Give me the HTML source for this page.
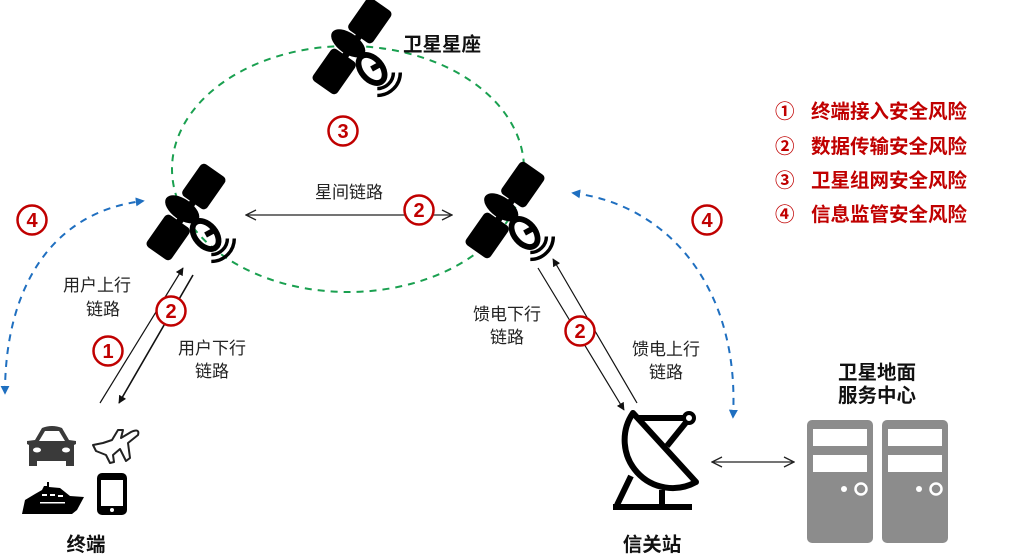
<!DOCTYPE html>
<html><head><meta charset="utf-8"><style>
html,body{margin:0;padding:0;background:#fff;}
svg{display:block;}
text{font-family:"Liberation Sans","Noto Sans CJK SC",sans-serif;}
.t{font-size:17px;fill:#222;}
.b{font-size:19.5px;font-weight:bold;fill:#111;}
.r{font-size:19.5px;font-weight:bold;fill:#c00000;}
.cn{font-size:20px;font-weight:bold;fill:#c00000;}
</style></head><body>
<svg width="1028" height="559" viewBox="0 0 1028 559" xmlns="http://www.w3.org/2000/svg">
<defs>
<marker id="ah" viewBox="0 0 10 10" refX="9" refY="5" markerWidth="8" markerHeight="8" orient="auto-start-reverse" markerUnits="userSpaceOnUse"><path d="M0,0 L10,5 L0,10 z" fill="#111"/></marker>
<marker id="oh" viewBox="0 0 12 12" refX="11" refY="6" markerWidth="12" markerHeight="12" orient="auto-start-reverse" markerUnits="userSpaceOnUse"><path d="M1,1 L11,6 L1,11" fill="none" stroke="#222" stroke-width="1.3"/></marker>
<marker id="bh" viewBox="0 0 10 10" refX="8" refY="5" markerWidth="9" markerHeight="9" orient="auto-start-reverse" markerUnits="userSpaceOnUse"><path d="M0,0 L10,5 L0,10 z" fill="#1f6fc0"/></marker>
<g id="sat">
 <g transform="scale(1.15)">
  <g transform="rotate(-55)">
    <rect x="10" y="-13" width="34" height="26" rx="4" fill="#000"/>
    <rect x="-44" y="-13" width="34" height="26" rx="4" fill="#000"/>
    <rect x="-12" y="-3" width="24" height="6" fill="#000"/>
    <ellipse cx="0" cy="-4" rx="9" ry="17" fill="#000"/>
  </g>
  <g transform="translate(17,20) rotate(-40)">
    <ellipse cx="0" cy="0" rx="9" ry="14" fill="none" stroke="#000" stroke-width="5"/>
    <line x1="0" y1="0" x2="10" y2="2" stroke="#000" stroke-width="5"/>
  </g>
  <path d="M22,37 A14,14 0 0 0 36,23" fill="none" stroke="#000" stroke-width="3"/>
  <path d="M22,43 A20,20 0 0 0 42,23" fill="none" stroke="#000" stroke-width="3"/>
 </g>
</g>
</defs>

<ellipse cx="348" cy="169" rx="176" ry="123" fill="none" stroke="#1aa050" stroke-width="2" stroke-dasharray="7,6"/>

<use href="#sat" x="352" y="46"/>
<use href="#sat" x="186" y="212"/>
<use href="#sat" x="505" y="210"/>

<text class="b" x="403" y="51">卫星星座</text>

<line x1="246" y1="215" x2="452" y2="215" stroke="#222" stroke-width="1.3" marker-start="url(#oh)" marker-end="url(#oh)"/>
<text class="t" x="349" y="198" text-anchor="middle">星间链路</text>

<line x1="100" y1="403" x2="183" y2="268" stroke="#111" stroke-width="1.2" marker-end="url(#ah)"/>
<line x1="193" y1="275" x2="119" y2="403" stroke="#111" stroke-width="1.6" marker-end="url(#ah)"/>
<text class="t" x="97" y="291" text-anchor="middle">用户上行</text>
<text class="t" x="103" y="315" text-anchor="middle">链路</text>
<text class="t" x="212" y="354" text-anchor="middle">用户下行</text>
<text class="t" x="212" y="377" text-anchor="middle">链路</text>

<line x1="538" y1="268" x2="624" y2="410" stroke="#111" stroke-width="1.2" marker-end="url(#ah)"/>
<line x1="637" y1="403" x2="553" y2="259" stroke="#111" stroke-width="1.2" marker-end="url(#ah)"/>
<text class="t" x="507" y="320" text-anchor="middle">馈电下行</text>
<text class="t" x="507" y="343" text-anchor="middle">链路</text>
<text class="t" x="666" y="355" text-anchor="middle">馈电上行</text>
<text class="t" x="666" y="378" text-anchor="middle">链路</text>

<path d="M5,393 C5,290 50,212 143,201" fill="none" stroke="#1f6fc0" stroke-width="2" stroke-dasharray="7,6" marker-start="url(#bh)" marker-end="url(#bh)"/>
<path d="M573,193 C670,205 740,290 733,417" fill="none" stroke="#1f6fc0" stroke-width="2" stroke-dasharray="7,6" marker-start="url(#bh)" marker-end="url(#bh)"/>

<g fill="#fff" stroke="#c00000" stroke-width="2.5">
<circle cx="32" cy="220" r="14.5"/>
<circle cx="108" cy="351" r="14.5"/>
<circle cx="171" cy="311" r="14.5"/>
<circle cx="343" cy="131" r="14.5"/>
<circle cx="419" cy="210" r="14.5"/>
<circle cx="580" cy="331" r="14.5"/>
<circle cx="707" cy="220" r="14.5"/>
</g>
<g class="cn" text-anchor="middle">
<text x="32" y="227">4</text>
<text x="108" y="358">1</text>
<text x="171" y="318">2</text>
<text x="343" y="138">3</text>
<text x="419" y="217">2</text>
<text x="580" y="338">2</text>
<text x="707" y="227">4</text>
</g>

<g class="r">
<text x="775" y="118">①</text><text x="811" y="118">终端接入安全风险</text>
<text x="775" y="153">②</text><text x="811" y="153">数据传输安全风险</text>
<text x="775" y="187">③</text><text x="811" y="187">卫星组网安全风险</text>
<text x="775" y="221">④</text><text x="811" y="221">信息监管安全风险</text>
</g>

<g fill="#3a3a3a">
  <path d="M35,440 L42,428 Q52,424 62,428 L69,440 L76,441 L76,444 L74,445 L74,466 L66,466 L66,461 L37,461 L37,466 L29,466 L29,445 L27,444 L27,441 Z"/>
</g>
<path d="M39,441 L45,431 L59,431 L65,441 Z" fill="#fff"/>
<ellipse cx="37" cy="450" rx="4" ry="2.5" fill="#fff"/>
<ellipse cx="66" cy="450" rx="4" ry="2.5" fill="#fff"/>
<path d="M93,445 L103,443 L112,440 L118,430 L123,430 L121,438 L131,432 Q140,428 138,435 L128,443 L130,458 L126,461 L120,449 L113,455 L114,462 L110,463 L106,455 L96,451 Z" fill="none" stroke="#222" stroke-width="2" stroke-linejoin="round"/>
<path d="M22,514 L25,500 L35,494 L42,490 L44,486 L47,486 L47,482 L49,482 L49,487 L60,488 L70,496 L84,497 L77,510 L72,514 Z" fill="#000"/>
<g fill="#fff"><rect x="42" y="494" width="5" height="2"/><rect x="50" y="494" width="5" height="2"/><rect x="58" y="495" width="5" height="2"/><rect x="40" y="502" width="25" height="1.5"/></g>
<rect x="97" y="473" width="30" height="42" rx="5" fill="#000"/>
<rect x="101" y="480" width="22" height="26" fill="#fff"/>
<circle cx="112" cy="510" r="2" fill="#fff"/>
<text class="b" x="86" y="551" text-anchor="middle">终端</text>

<g fill="none" stroke="#000" stroke-width="6" stroke-linecap="butt" stroke-linejoin="round">
  <path d="M633,413 L696,482 A48,48 0 0 1 633,413 Z"/>
  <path d="M636,418 L688,418"/>
  <path d="M688,420 L667,446"/>
  <path d="M631,476 L617,505"/>
  <path d="M662,490 L662,505"/>
  <path d="M613,507 L692,507"/>
</g>
<circle cx="689" cy="418" r="5" fill="#fff" stroke="#000" stroke-width="4"/>
<text class="b" x="652" y="551" text-anchor="middle">信关站</text>

<line x1="712" y1="462" x2="794" y2="462" stroke="#222" stroke-width="1.3" marker-start="url(#oh)" marker-end="url(#oh)"/>

<g>
  <rect x="807" y="420" width="66" height="123" rx="5" fill="#8c8c8c"/>
  <rect x="813" y="429" width="54" height="17" fill="#fff"/>
  <rect x="813" y="455" width="54" height="17" fill="#fff"/>
  <circle cx="844" cy="489" r="3" fill="#fff"/>
  <circle cx="861" cy="489" r="5.5" fill="none" stroke="#fff" stroke-width="2.5"/>
  <rect x="882" y="420" width="66" height="123" rx="5" fill="#8c8c8c"/>
  <rect x="888" y="429" width="54" height="17" fill="#fff"/>
  <rect x="888" y="455" width="54" height="17" fill="#fff"/>
  <circle cx="919" cy="489" r="3" fill="#fff"/>
  <circle cx="936" cy="489" r="5.5" fill="none" stroke="#fff" stroke-width="2.5"/>
</g>
<text class="b" x="877" y="379" text-anchor="middle">卫星地面</text>
<text class="b" x="877" y="402" text-anchor="middle">服务中心</text>
</svg>
</body></html>
